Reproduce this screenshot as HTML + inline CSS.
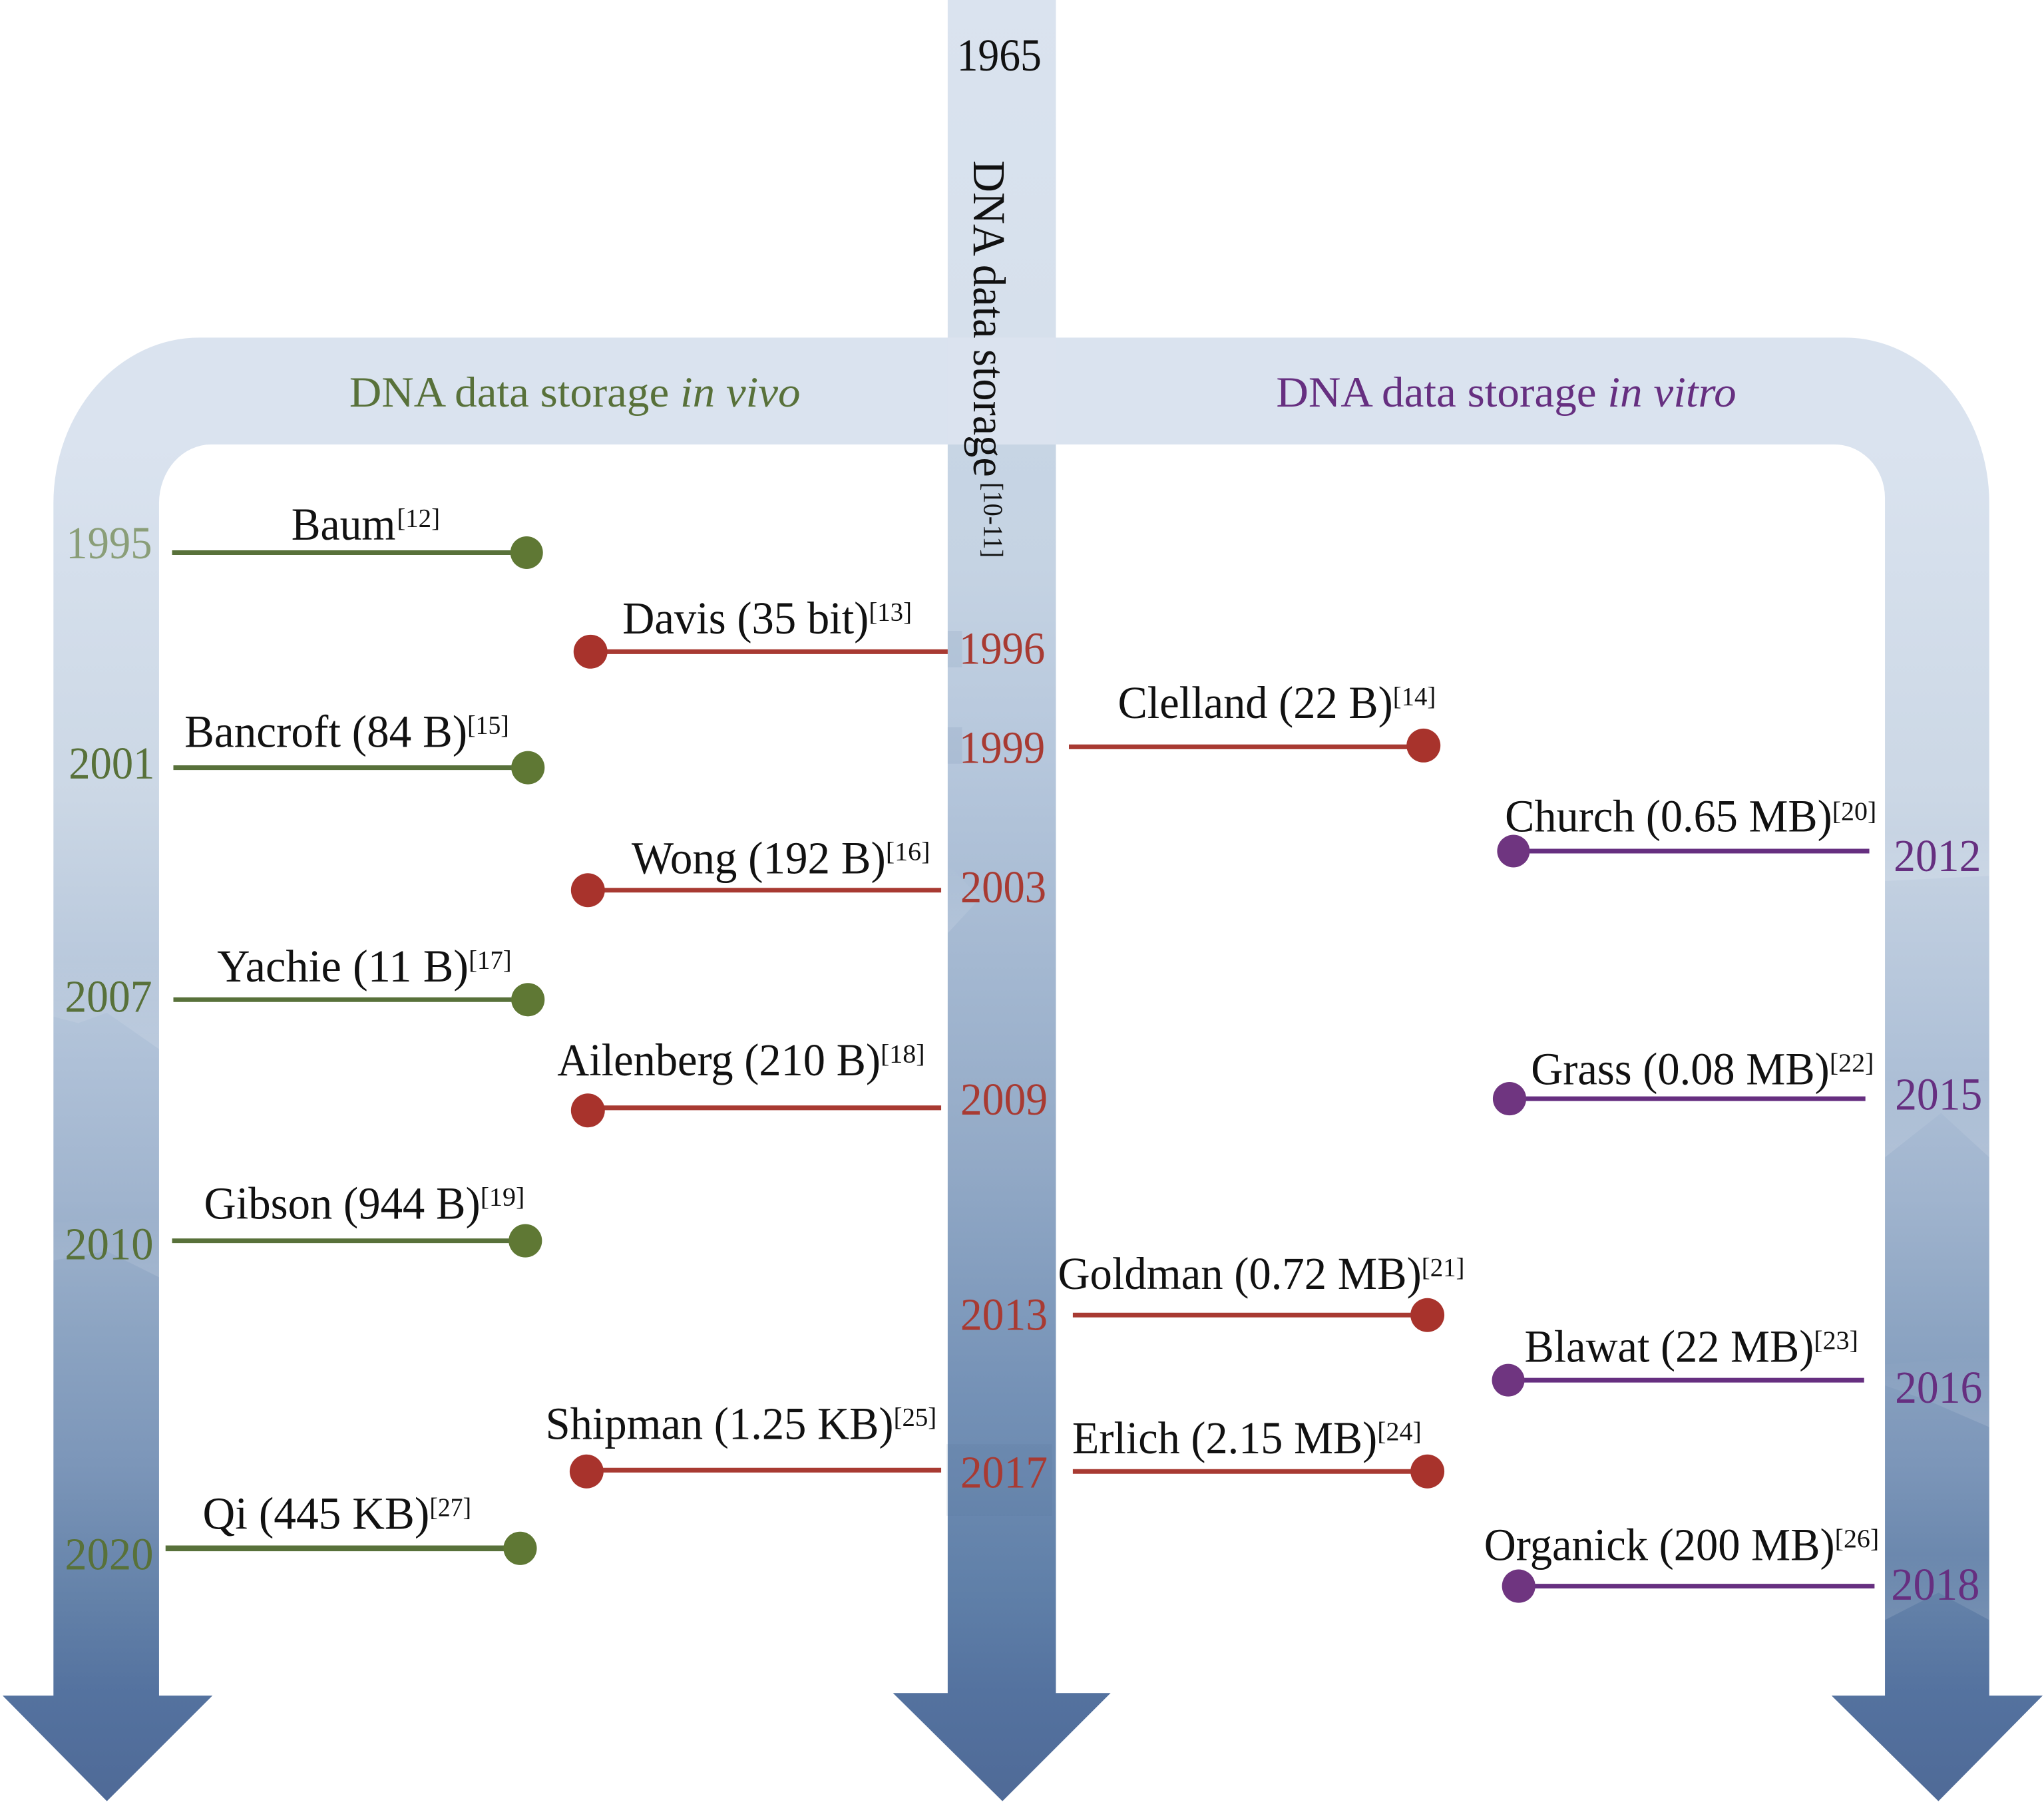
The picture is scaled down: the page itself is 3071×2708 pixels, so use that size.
<!DOCTYPE html>
<html>
<head>
<meta charset="utf-8">
<style>
html,body{margin:0;padding:0;background:#fff;width:3071px;height:2708px;overflow:hidden}
svg{display:block}
text{font-family:"Liberation Serif",serif;fill:#111}
.l{font-size:35px}
.s{font-size:20px}
.y{font-size:35px}
.r{fill:#a83a32}
.g{fill:#58713a}
.p{fill:#662f80}
</style>
</head>
<body>
<svg width="3071" height="2708" viewBox="0 0 1568 1382.6" xmlns="http://www.w3.org/2000/svg">
<defs>
<linearGradient id="a" gradientUnits="userSpaceOnUse" x1="0" y1="0" x2="0" y2="1382">
<stop offset="0" stop-color="#dae3ef"/>
<stop offset="0.247" stop-color="#dae3ef"/>
<stop offset="0.4436" stop-color="#cbd7e5"/>
<stop offset="0.591" stop-color="#aec0d7"/>
<stop offset="0.665" stop-color="#a0b4ce"/>
<stop offset="0.739" stop-color="#8ca4c2"/>
<stop offset="0.8126" stop-color="#7c96b9"/>
<stop offset="0.886" stop-color="#6482a9"/>
<stop offset="0.94" stop-color="#54729f"/>
<stop offset="1" stop-color="#4f6a97"/>
</linearGradient>
<linearGradient id="c" gradientUnits="userSpaceOnUse" x1="0" y1="0" x2="0" y2="1382">
<stop offset="0" stop-color="#dae3ef"/>
<stop offset="0.19" stop-color="#d6e0ec"/>
<stop offset="0.245" stop-color="#c7d5e4"/>
<stop offset="0.314" stop-color="#c5d3e3"/>
<stop offset="0.42" stop-color="#b6c7dc"/>
<stop offset="0.647" stop-color="#92a9c6"/>
<stop offset="0.776" stop-color="#7491b6"/>
<stop offset="0.886" stop-color="#5f7fa8"/>
<stop offset="0.94" stop-color="#54729f"/>
<stop offset="1" stop-color="#4f6a97"/>
</linearGradient>
<linearGradient id="f" x1="0" y1="0" x2="0" y2="1">
<stop offset="0" stop-color="#fff" stop-opacity="0"/>
<stop offset="1" stop-color="#fff" stop-opacity="0.13"/>
</linearGradient>
</defs>

<!-- centre arrow -->
<path d="M727 0H810V1299H852L769 1382L685 1299H727Z" fill="url(#c)"/>
<!-- branching band with arms -->
<path d="M41 1301V386A112 127 0 0 1 153 259H1415A111 127 0 0 1 1526 386V1301H1567L1487 1382L1405 1301H1446V382A39 41 0 0 0 1405 341H162A40 45 0 0 0 122 386V1301H163L82 1382L2 1301Z" fill="url(#a)"/>
<rect x="727" y="259" width="83" height="82" fill="#dbe3ef"/>

<!-- subtle patches behind years -->
<g fill="url(#f)">
<polygon points="41,735 122,735 122,805 82,777 60,785 41,780"/>
<polygon points="41,938 122,933 122,980 82,960 41,967"/>
<polygon points="1446,638 1526,638 1526,672 1446,676"/>
<polygon points="1446,826 1526,826 1526,888 1489,854 1446,888"/>
<polygon points="1446,1047 1526,1040 1526,1095 1480,1075 1446,1063"/>
<polygon points="1446,1193 1526,1193 1526,1243 1487,1222 1446,1243"/>
<polygon points="727,663 752,689 727,716"/>
</g>
<g fill="#4f6a97" opacity="0.1">
<rect x="727" y="484" width="11" height="28"/>
<rect x="727" y="558" width="11" height="28"/>
<rect x="726" y="1108" width="81" height="55"/>
</g>

<!-- top labels -->
<text x="734" y="54" class="y" textLength="65" lengthAdjust="spacingAndGlyphs">1965</text>
<text x="268" y="312" class="g" style="font-size:33px" textLength="346" lengthAdjust="spacingAndGlyphs">DNA data storage <tspan font-style="italic">in vivo</tspan></text>
<text x="979" y="312" class="p" style="font-size:33px" textLength="353" lengthAdjust="spacingAndGlyphs">DNA data storage <tspan font-style="italic">in vitro</tspan></text>
<text transform="translate(747,123) rotate(90)" class="l" textLength="243" lengthAdjust="spacingAndGlyphs">DNA data storage</text>
<text transform="translate(755,370) rotate(90)" style="font-size:21px" textLength="58" lengthAdjust="spacingAndGlyphs">[10-11]</text>

<!-- green -->
<g stroke="#58713a" stroke-width="3.6" fill="#5f7834">
<line x1="132" y1="424" x2="394" y2="424"/><circle cx="404" cy="424" r="12.5" stroke="none"/>
<line x1="133" y1="589" x2="395" y2="589"/><circle cx="405" cy="589" r="12.8" stroke="none"/>
<line x1="133" y1="767" x2="395" y2="767"/><circle cx="405" cy="767" r="12.8" stroke="none"/>
<line x1="132" y1="952" x2="393" y2="952"/><circle cx="403" cy="952" r="12.8" stroke="none"/>
<line x1="127" y1="1188" x2="389" y2="1188" stroke-width="4.4"/><circle cx="399" cy="1188" r="12.8" stroke="none"/>
</g>
<!-- red -->
<g stroke="#a83a32" stroke-width="3.6" fill="#a8332c">
<line x1="463" y1="500" x2="727" y2="500"/><circle cx="453" cy="500" r="13" stroke="none"/>
<line x1="461" y1="683" x2="722" y2="683"/><circle cx="451" cy="683" r="13" stroke="none"/>
<line x1="461" y1="850" x2="722" y2="850"/><circle cx="451" cy="852" r="13" stroke="none"/>
<line x1="460" y1="1128" x2="722" y2="1128"/><circle cx="450" cy="1129" r="13" stroke="none"/>
<line x1="820" y1="573" x2="1082" y2="573"/><circle cx="1092" cy="572" r="13" stroke="none"/>
<line x1="823" y1="1009" x2="1085" y2="1009"/><circle cx="1095" cy="1009" r="13" stroke="none"/>
<line x1="823" y1="1129" x2="1085" y2="1129"/><circle cx="1095" cy="1129" r="13" stroke="none"/>
</g>
<!-- purple -->
<g stroke="#662f80" stroke-width="3.6" fill="#6f3580">
<line x1="1171" y1="653" x2="1434" y2="653"/><circle cx="1161" cy="653" r="12.5" stroke="none"/>
<line x1="1168" y1="843" x2="1431" y2="843"/><circle cx="1158" cy="843" r="12.8" stroke="none"/>
<line x1="1167" y1="1059" x2="1430" y2="1059"/><circle cx="1157" cy="1059" r="12.5" stroke="none"/>
<line x1="1175" y1="1217" x2="1438" y2="1217"/><circle cx="1165" cy="1217" r="12.8" stroke="none"/>
</g>

<!-- names -->
<g transform="translate(-0.5,-1)">
<text x="224" y="415" class="l" textLength="80" lengthAdjust="spacingAndGlyphs">Baum</text><text x="305" y="405" class="s" textLength="33" lengthAdjust="spacingAndGlyphs">[12]</text>
<text x="142" y="574" class="l" textLength="217" lengthAdjust="spacingAndGlyphs">Bancroft (84 B)</text><text x="359" y="564" class="s" textLength="32" lengthAdjust="spacingAndGlyphs">[15]</text>
<text x="167" y="754" class="l" textLength="193" lengthAdjust="spacingAndGlyphs">Yachie (11 B)</text><text x="360" y="744" class="s" textLength="33" lengthAdjust="spacingAndGlyphs">[17]</text>
<text x="157" y="936" class="l" textLength="212" lengthAdjust="spacingAndGlyphs">Gibson (944 B)</text><text x="369" y="926" class="s" textLength="34" lengthAdjust="spacingAndGlyphs">[19]</text>
<text x="156" y="1174" class="l" textLength="174" lengthAdjust="spacingAndGlyphs">Qi (445 KB)</text><text x="330" y="1164" class="s" textLength="32" lengthAdjust="spacingAndGlyphs">[27]</text>

<text x="478" y="487" class="l" textLength="189" lengthAdjust="spacingAndGlyphs">Davis (35 bit)</text><text x="667" y="477" class="s" textLength="33" lengthAdjust="spacingAndGlyphs">[13]</text>
<text x="485" y="671" class="l" textLength="195" lengthAdjust="spacingAndGlyphs">Wong (192 B)</text><text x="680" y="661" class="s" textLength="34" lengthAdjust="spacingAndGlyphs">[16]</text>
<text x="428" y="826" class="l" textLength="248" lengthAdjust="spacingAndGlyphs">Ailenberg (210 B)</text><text x="676" y="816" class="s" textLength="34" lengthAdjust="spacingAndGlyphs">[18]</text>
<text x="419" y="1105" class="l" textLength="267" lengthAdjust="spacingAndGlyphs">Shipman (1.25 KB)</text><text x="686" y="1095" class="s" textLength="33" lengthAdjust="spacingAndGlyphs">[25]</text>

<text x="858" y="552" class="l" textLength="211" lengthAdjust="spacingAndGlyphs">Clelland (22 B)</text><text x="1069" y="542" class="s" textLength="33" lengthAdjust="spacingAndGlyphs">[14]</text>
<text x="812" y="990" class="l" textLength="279" lengthAdjust="spacingAndGlyphs">Goldman (0.72 MB)</text><text x="1091" y="980" class="s" textLength="33" lengthAdjust="spacingAndGlyphs">[21]</text>
<text x="823" y="1116" class="l" textLength="234" lengthAdjust="spacingAndGlyphs">Erlich (2.15 MB)</text><text x="1057" y="1106" class="s" textLength="34" lengthAdjust="spacingAndGlyphs">[24]</text>

<text x="1155" y="639" class="l" textLength="251" lengthAdjust="spacingAndGlyphs">Church (0.65 MB)</text><text x="1406" y="630" class="s" textLength="34" lengthAdjust="spacingAndGlyphs">[20]</text>
<text x="1175" y="833" class="l" textLength="229" lengthAdjust="spacingAndGlyphs">Grass (0.08 MB)</text><text x="1404" y="823" class="s" textLength="34" lengthAdjust="spacingAndGlyphs">[22]</text>
<text x="1170" y="1046" class="l" textLength="222" lengthAdjust="spacingAndGlyphs">Blawat (22 MB)</text><text x="1392" y="1036" class="s" textLength="34" lengthAdjust="spacingAndGlyphs">[23]</text>
<text x="1139" y="1198" class="l" textLength="269" lengthAdjust="spacingAndGlyphs">Organick (200 MB)</text><text x="1408" y="1188" class="s" textLength="34" lengthAdjust="spacingAndGlyphs">[26]</text>
</g>

<!-- years -->
<g transform="translate(-0.3,-0.7)">
<text x="51" y="429" class="y" style="fill:#8a9e78" textLength="66" lengthAdjust="spacingAndGlyphs">1995</text>
<text x="53" y="598" class="y g" textLength="66" lengthAdjust="spacingAndGlyphs">2001</text>
<text x="50" y="777" class="y g" textLength="67" lengthAdjust="spacingAndGlyphs">2007</text>
<text x="50" y="967" class="y g" textLength="68" lengthAdjust="spacingAndGlyphs">2010</text>
<text x="50" y="1205" class="y g" textLength="68" lengthAdjust="spacingAndGlyphs">2020</text>
<text x="736" y="510" class="y r" textLength="66" lengthAdjust="spacingAndGlyphs">1996</text>
<text x="736" y="586" class="y r" textLength="66" lengthAdjust="spacingAndGlyphs">1999</text>
<text x="737" y="693" class="y r" textLength="66" lengthAdjust="spacingAndGlyphs">2003</text>
<text x="737" y="856" class="y r" textLength="67" lengthAdjust="spacingAndGlyphs">2009</text>
<text x="737" y="1021" class="y r" textLength="67" lengthAdjust="spacingAndGlyphs">2013</text>
<text x="737" y="1142" class="y r" textLength="67" lengthAdjust="spacingAndGlyphs">2017</text>
<text x="1453" y="669" class="y p" textLength="67" lengthAdjust="spacingAndGlyphs">2012</text>
<text x="1454" y="852" class="y p" textLength="67" lengthAdjust="spacingAndGlyphs">2015</text>
<text x="1454" y="1077" class="y p" textLength="67" lengthAdjust="spacingAndGlyphs">2016</text>
<text x="1451" y="1228" class="y p" textLength="68" lengthAdjust="spacingAndGlyphs">2018</text>
</g>
</svg>
</body>
</html>
